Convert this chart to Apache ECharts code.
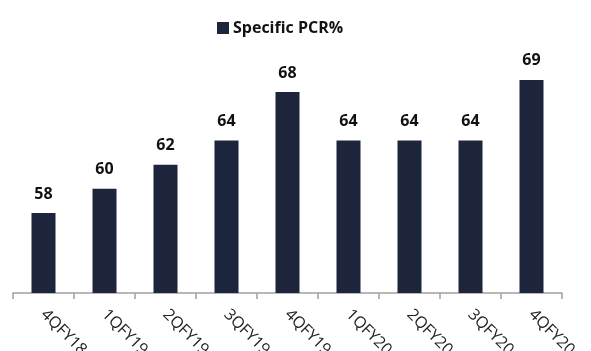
<!DOCTYPE html>
<html>
<head>
<meta charset="utf-8">
<script src="https://cdn.jsdelivr.net/npm/echarts@6/dist/echarts.min.js"></script>
<style>
  html, body { margin: 0; padding: 0; background: #fff; }
  #chart { width: 591px; height: 351px; }
</style>
</head>
<body>
<div id="chart"></div>
<script>
// Quarterly specific provision coverage ratio (%)
const quarters = ['4QFY18', '1QFY19', '2QFY19', '3QFY19', '4QFY19', '1QFY20', '2QFY20', '3QFY20', '4QFY20'];
const specificPcr = [58, 60, 62, 64, 68, 64, 64, 64, 69];
const seriesName = 'Specific PCR%';

const chart = echarts.init(document.getElementById('chart'), null, { renderer: 'canvas' });

chart.setOption({
  backgroundColor: '#ffffff',
  animation: false,
  legend: {
    data: [seriesName],
    left: 212,
    top: 15,
    itemWidth: 12,
    itemHeight: 12,
    itemGap: 4,
    icon: 'rect',
    textStyle: {
      fontFamily: 'Open Sans',
      fontWeight: 'bold',
      fontSize: 16,
      color: '#111111',
      padding: [0, 0, 0, -1]
    }
  },
  grid: {
    left: 13, right: 29, top: 46, bottom: 58,
    containLabel: false,
    outerBoundsMode: 'none'
  },
  xAxis: {
    type: 'category',
    data: quarters,
    axisLine: { lineStyle: { color: '#a0a0a0', width: 1.5 } },
    axisTick: { show: true, length: 6, lineStyle: { color: '#a0a0a0', width: 1.5 } },
    axisLabel: {
      rotate: -45,
      margin: 19,
      fontFamily: 'Open Sans',
      fontSize: 16,
      color: '#222222'
    }
  },
  yAxis: {
    type: 'value',
    min: 51.4,
    max: 71.8,
    show: false,
    splitLine: { show: false }
  },
  series: [{
    name: seriesName,
    type: 'bar',
    data: specificPcr,
    barWidth: 24,
    itemStyle: { color: '#1c253b' },
    label: {
      show: true,
      position: 'top',
      distance: 11,
      fontFamily: 'Open Sans',
      fontWeight: 'bold',
      fontSize: 16,
      color: '#111111'
    }
  }]
});
</script>
</body>
</html>
